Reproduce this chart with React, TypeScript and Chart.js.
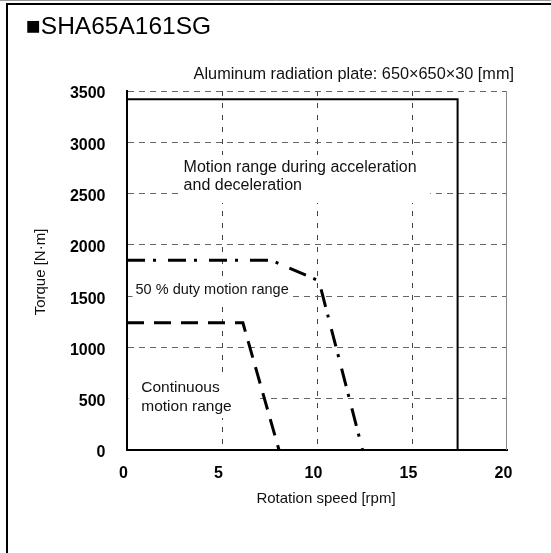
import React, { useEffect, useRef } from 'react';
import { Chart, registerables } from 'chart.js';
Chart.register(...registerables);

const chartTitle = '■SHA65A161SG';
const plateNote = 'Aluminum radiation plate: 650×650×30 [mm]';
const xAxisTitle = 'Rotation speed [rpm]';
const yAxisTitle = 'Torque [N·m]';
const speedTicks = [0, 5, 10, 15, 20];
const torqueTicks = [0, 500, 1000, 1500, 2000, 2500, 3000, 3500];

const accelSpeed = [0, 17.4, 17.4];
const accelTorque = [3420, 3420, 0];
const dutySpeed = [0, 7.6, 10.1, 12.4];
const dutyTorque = [1850, 1850, 1650, 0];
const contSpeed = [0, 6.1, 8.0];
const contTorque = [1240, 1240, 0];

const accelLabel = ['Motion range during acceleration', 'and deceleration'];
const dutyLabel = ['50 % duty motion range'];
const contLabel = ['Continuous', 'motion range'];

const FONT = '"Liberation Sans", Arial, Helvetica, sans-serif';

const toPts = (xs: number[], ys: number[]) => xs.map((x, i) => ({ x, y: ys[i] }));

// text blocks: white box in data coords, text anchor (data), font size, line gap px
const textBlocks = [
  { lines: accelLabel, box: [2.93, 15.96, 2876, 2408], at: [2.98, 2752], size: 16, gap: 18.3 },
  { lines: dutyLabel, box: [0.29, 8.57, 1657, 1443], at: [0.45, 1560], size: 14.5, gap: 0 },
  { lines: contLabel, box: [0.08, 6.83, 712, 312], at: [0.75, 604], size: 15.5, gap: 18.7 },
];

const overlayPlugin = {
  id: 'overlay',
  beforeDatasetsDraw(chart: any) {
    const { ctx, scales } = chart;
    const xs = scales.x, ys = scales.y;
    ctx.save();
    const xr = xs.getPixelForValue(speedTicks[speedTicks.length - 1]);
    ctx.strokeStyle = '#888';
    ctx.lineWidth = 1;
    ctx.beginPath();
    ctx.moveTo(Math.round(xr) - 0.5, ys.getPixelForValue(torqueTicks[torqueTicks.length - 1]));
    ctx.lineTo(Math.round(xr) - 0.5, ys.getPixelForValue(0));
    ctx.stroke();
    for (const b of textBlocks) {
      const x0 = xs.getPixelForValue(b.box[0]);
      const x1 = xs.getPixelForValue(b.box[1]);
      const y0 = ys.getPixelForValue(b.box[2]);
      const y1 = ys.getPixelForValue(b.box[3]);
      ctx.fillStyle = '#fff';
      ctx.fillRect(x0, y0, x1 - x0, y1 - y0);
      ctx.fillStyle = '#111';
      ctx.font = `${b.size}px ${FONT}`;
      ctx.textAlign = 'left';
      ctx.textBaseline = 'middle';
      const tx = xs.getPixelForValue(b.at[0]);
      const ty = ys.getPixelForValue(b.at[1]);
      b.lines.forEach((l, i) => ctx.fillText(l, tx, ty + i * b.gap));
    }
    ctx.restore();
  },
  afterDraw(chart: any) {
    const { ctx } = chart;
    ctx.save();
    ctx.strokeStyle = '#999';
    ctx.lineWidth = 1;
    ctx.beginPath();
    ctx.moveTo(0, 0.5);
    ctx.lineTo(551, 0.5);
    ctx.stroke();
    ctx.strokeStyle = '#000';
    ctx.lineWidth = 2;
    ctx.beginPath();
    ctx.moveTo(551, 4);
    ctx.lineTo(7, 4);
    ctx.lineTo(7, 553);
    ctx.stroke();
    ctx.fillStyle = '#000';
    ctx.textBaseline = 'middle';
    ctx.textAlign = 'left';
    ctx.font = `24.5px ${FONT}`;
    ctx.fillText(chartTitle, 26, 27);
    ctx.font = `16.3px ${FONT}`;
    ctx.fillStyle = '#111';
    ctx.textAlign = 'right';
    ctx.fillText(plateNote, 514, 75);
    ctx.textAlign = 'center';
    ctx.font = `15px ${FONT}`;
    ctx.fillText(xAxisTitle, 326, 499);
    ctx.translate(41, 272);
    ctx.rotate(-Math.PI / 2);
    ctx.fillText(yAxisTitle, 0, 0);
    ctx.restore();
  },
};

export default function App() {
  const ref = useRef<HTMLCanvasElement>(null);
  useEffect(() => {
    if (!ref.current) return;
    const chart = new Chart(ref.current, {
      type: 'line',
      data: {
        datasets: [
          {
            data: toPts(accelSpeed, accelTorque),
            borderColor: '#000',
            borderWidth: 2,
            pointRadius: 0,
            fill: false,
            tension: 0,
          },
          {
            data: toPts(dutySpeed, dutyTorque),
            borderColor: '#000',
            borderWidth: 3,
            borderDash: [18, 8, 3, 12],
            pointRadius: 0,
            fill: false,
            tension: 0,
          },
          {
            data: toPts(contSpeed, contTorque),
            borderColor: '#000',
            borderWidth: 3,
            borderDash: [17, 10],
            pointRadius: 0,
            fill: false,
            tension: 0,
          },
        ],
      },
      options: {
        responsive: false,
        animation: false,
        devicePixelRatio: 1,
        layout: { padding: { top: 91, right: 44, left: 0, bottom: 0 } },
        plugins: { legend: { display: false }, tooltip: { enabled: false }, title: { display: false } },
        scales: {
          x: {
            type: 'linear',
            min: speedTicks[0],
            max: speedTicks[speedTicks.length - 1],
            afterFit: (s: any) => { s.height = 103; },
            afterBuildTicks: (s: any) => { s.ticks = speedTicks.map((v) => ({ value: v })); },
            ticks: {
              stepSize: 5,
              padding: 14,
              labelOffset: -3.5,
              color: '#000',
              font: { family: FONT, size: 16, weight: 'bold' },
              callback: (v: any) => String(v),
            },
            grid: {
              drawTicks: false,
              lineWidth: 1,
              color: (c: any) => (c.tick && (c.tick.value === 0 || c.tick.value === 20) ? 'rgba(0,0,0,0)' : '#444'),
            },
            border: { display: true, color: '#000', width: 2, dash: [5, 7] },
          },
          y: {
            type: 'linear',
            min: torqueTicks[0],
            max: torqueTicks[torqueTicks.length - 1],
            afterFit: (s: any) => { s.width = 127; },
            afterBuildTicks: (s: any) => { s.ticks = torqueTicks.map((v) => ({ value: v })); },
            ticks: {
              stepSize: 500,
              padding: 21.5,
              labelOffset: 3,
              color: '#000',
              font: { family: FONT, size: 16, weight: 'bold' },
              callback: (v: any) => String(v),
            },
            grid: {
              drawTicks: false,
              lineWidth: 1,
              color: (c: any) => (c.tick && c.tick.value === 0 ? 'rgba(0,0,0,0)' : '#666'),
            },
            border: { display: true, color: '#000', width: 2, dash: [6, 5] },
          },
        },
      },
      plugins: [overlayPlugin],
    } as any);
    return () => chart.destroy();
  }, []);
  return (
    <div style={{ position: 'fixed', left: 0, top: 0, width: 551, height: 553, background: '#fff' }}>
      <canvas ref={ref} width={551} height={553} style={{ display: 'block', width: 551, height: 553 }} />
    </div>
  );
}
